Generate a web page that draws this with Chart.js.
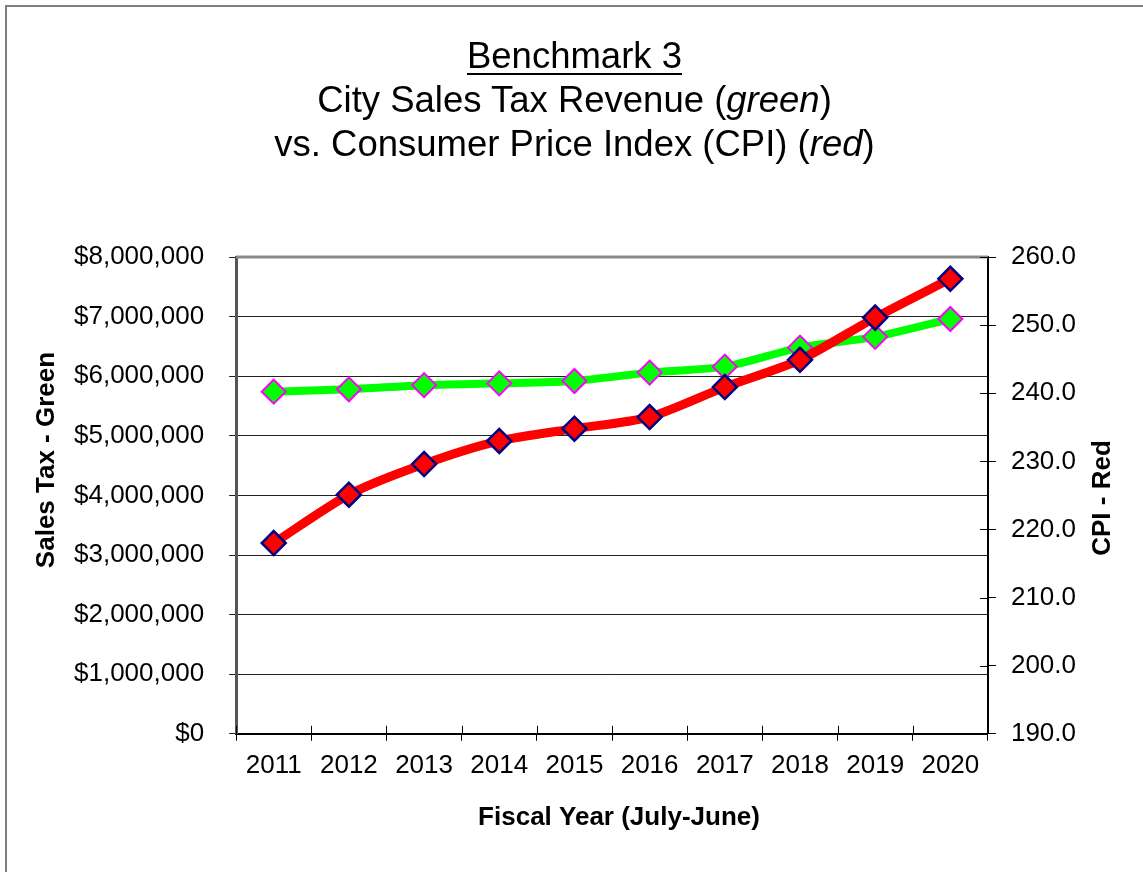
<!DOCTYPE html>
<html>
<head>
<meta charset="utf-8">
<script src="https://cdn.jsdelivr.net/npm/chart.js@4.4.0/dist/chart.umd.min.js"></script>
<style>
html, body { margin:0; padding:0; background:#fff; overflow:hidden; }
#frame { position:absolute; left:5px; top:5px; width:1200px; height:900px; border:2px solid #7f7f7f; box-sizing:border-box; }
#title { position:absolute; left:3px; top:34px; width:1143px; text-align:center;
         font-family:'Liberation Sans', Arial, sans-serif; font-size:36.5px; line-height:44px; color:#000; }
#title u { text-decoration-thickness:2px; text-underline-offset:5px; }
#wrap { position:absolute; left:0; top:0; width:1143px; height:872px; }
</style>
</head>
<body>
<div id="frame"></div>
<div id="wrap"><canvas id="myChart"></canvas></div>
<div id="title">
  <u>Benchmark 3</u><br>
  City Sales Tax Revenue (<i>green</i>)<br>
  vs. Consumer Price Index (CPI) (<i>red</i>)
</div>
<script>
var years = ['2011','2012','2013','2014','2015','2016','2017','2018','2019','2020'];
var salesTax = [5740000, 5780000, 5850000, 5880000, 5920000, 6060000, 6160000, 6480000, 6660000, 6960000];
var cpi = [218.0, 225.1, 229.6, 233.0, 234.8, 236.5, 240.9, 244.9, 251.1, 256.8];
var yTitleLeft = 'Sales Tax - Green';
var yTitleRight = 'CPI - Red';
var xTitle = 'Fiscal Year (July-June)';

var FONT = '"Liberation Sans", Arial, sans-serif';

// axis titles, plot frame and the ticks that cross the axis lines
var extras = {
    id: 'extras',
    beforeDatasetsDraw: function(chart){
        var ctx = chart.ctx, a = chart.chartArea;
        ctx.save();
        ctx.strokeStyle = '#8a8a8a';
        ctx.lineWidth = 3;
        ctx.beginPath();
        ctx.moveTo(a.left, a.top);
        ctx.lineTo(a.right, a.top);
        ctx.stroke();
        // inner halves of the x ticks
        var x = chart.scales.x;
        var half = (x.getPixelForValue(1) - x.getPixelForValue(0)) / 2;
        ctx.strokeStyle = '#000';
        ctx.lineWidth = 1;
        ctx.beginPath();
        for (var i = 0; i <= years.length; i++) {
            var px = Math.round(x.getPixelForValue(i) - half) + 0.5;
            ctx.moveTo(px, a.bottom);
            ctx.lineTo(px, a.bottom - 8);
        }
        // inner halves of the right ticks
        var y1 = chart.scales.y1;
        y1.ticks.forEach(function(t){
            var py = Math.round(y1.getPixelForValue(t.value)) + 0.5;
            ctx.moveTo(a.right, py);
            ctx.lineTo(a.right - 8, py);
        });
        ctx.stroke();
        ctx.restore();
    },
    afterDraw: function(chart){
        var ctx = chart.ctx;
        ctx.save();
        ctx.fillStyle = '#000';
        ctx.font = 'bold 26px ' + FONT;
        ctx.textAlign = 'center';
        ctx.textBaseline = 'middle';
        ctx.fillText(xTitle, 619, 818);
        ctx.translate(47, 460);
        ctx.rotate(-Math.PI / 2);
        ctx.fillText(yTitleLeft, 0, 0);
        ctx.restore();
        ctx.save();
        ctx.fillStyle = '#000';
        ctx.font = 'bold 26px ' + FONT;
        ctx.textAlign = 'center';
        ctx.textBaseline = 'middle';
        ctx.translate(1103, 498);
        ctx.rotate(-Math.PI / 2);
        ctx.fillText(yTitleRight, 0, 0);
        ctx.restore();
    }
};

var ctx = document.getElementById('myChart').getContext('2d');
var myChart = new Chart(ctx, {
    type: 'line',
    data: {
        labels: years,
        datasets: [{
            label: 'Sales Tax',
            data: salesTax,
            yAxisID: 'y',
            order: 1,
            borderColor: '#00ff00',
            borderWidth: 8,
            tension: 0.25,
            pointStyle: 'rectRot',
            pointRadius: 12,
            pointHoverRadius: 12,
            pointBackgroundColor: '#00ff00',
            pointBorderColor: '#ff00ff',
            pointBorderWidth: 2
        }, {
            label: 'CPI',
            data: cpi,
            yAxisID: 'y1',
            order: 0,
            borderColor: '#ff0000',
            borderWidth: 9,
            tension: 0.25,
            pointStyle: 'rectRot',
            pointRadius: 12,
            pointHoverRadius: 12,
            pointBackgroundColor: '#ff0000',
            pointBorderColor: '#000080',
            pointBorderWidth: 2.5
        }]
    },
    options: {
        responsive: true,
        maintainAspectRatio: false,
        animation: false,
        layout: { padding: { left: 49, right: 52, top: 257, bottom: 82 } },
        plugins: {
            legend: { display: false },
            tooltip: { enabled: false },
            title: { display: false }
        },
        scales: {
            x: {
                offset: true,
                grid: { offset: true, drawOnChartArea: false, color: '#000', lineWidth: 1, tickLength: 7 },
                border: { color: '#000', width: 2 },
                ticks: { color: '#000', font: { family: FONT, size: 26 }, padding: 9, maxRotation: 0 }
            },
            y: {
                position: 'left',
                min: 0,
                max: 8000000,
                grid: { color: '#222', lineWidth: 1, tickLength: 7 },
                border: { color: '#555', width: 3 },
                ticks: {
                    stepSize: 1000000,
                    color: '#000',
                    font: { family: FONT, size: 26 },
                    padding: 25,
                    callback: function(v){ return '$' + v.toLocaleString('en-US'); }
                }
            },
            y1: {
                position: 'right',
                min: 190,
                max: 260,
                grid: { drawOnChartArea: false, color: '#000', lineWidth: 1, tickLength: 8 },
                border: { color: '#000', width: 2 },
                ticks: {
                    stepSize: 10,
                    color: '#000',
                    font: { family: FONT, size: 26 },
                    padding: 15,
                    callback: function(v){ return v.toFixed(1); }
                }
            }
        }
    },
    plugins: [extras]
});
</script>
</body>
</html>
